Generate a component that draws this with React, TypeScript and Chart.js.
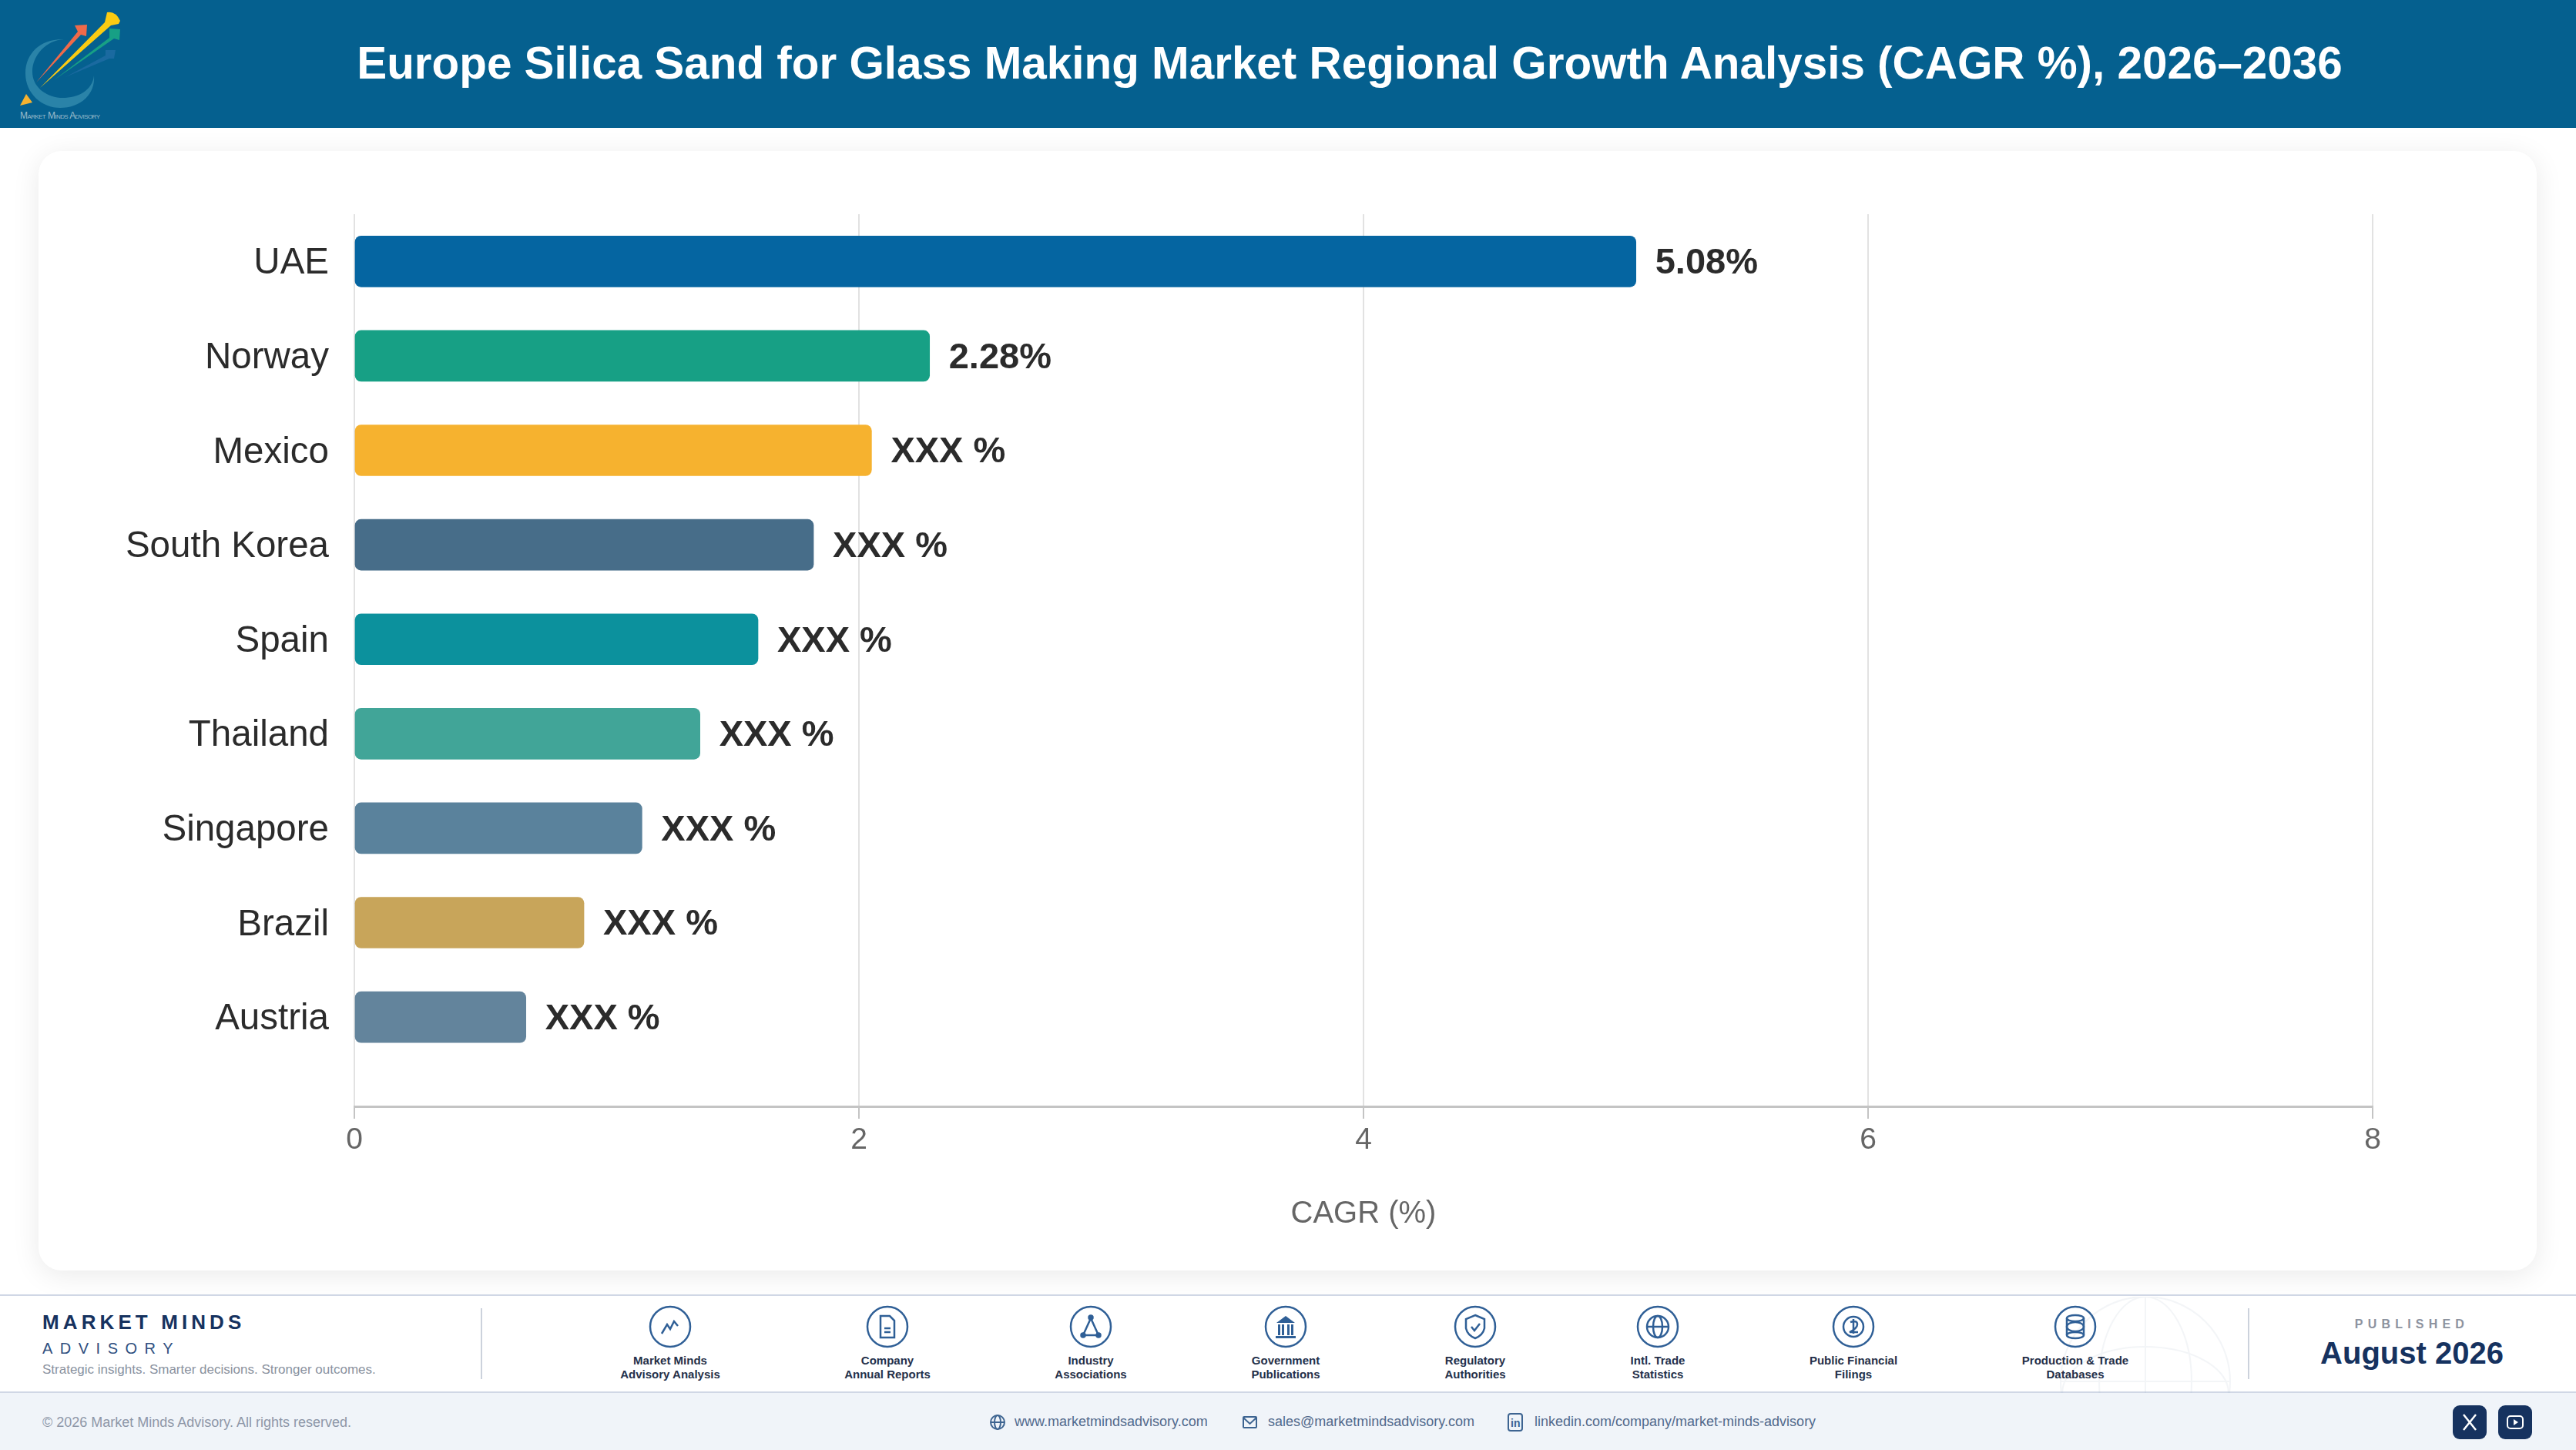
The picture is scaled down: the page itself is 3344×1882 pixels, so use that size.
import { useEffect, useRef } from "react";
import Chart from "chart.js/auto";

const countries = ["UAE", "Norway", "Mexico", "South Korea", "Spain", "Thailand", "Singapore", "Brazil", "Austria"];
const cagr = [5.08, 2.28, 2.05, 1.82, 1.6, 1.37, 1.14, 0.91, 0.68];
const barLabels = ["5.08%", "2.28%", "XXX %", "XXX %", "XXX %", "XXX %", "XXX %", "XXX %", "XXX %"];
const barColors = ["#0565a1", "#17a085", "#f6b22f", "#476d89", "#0c919d", "#41a598", "#5a829c", "#c8a55a", "#63849c"];
const xTicks = [0, 2, 4, 6, 8];

const sans = '"Liberation Sans", Arial, sans-serif';

const sources = [
  { x: 870, lines: ["Market Minds", "Advisory Analysis"], icon: "trend" },
  { x: 1152, lines: ["Company", "Annual Reports"], icon: "doc" },
  { x: 1416, lines: ["Industry", "Associations"], icon: "triangle" },
  { x: 1669, lines: ["Government", "Publications"], icon: "bank" },
  { x: 1915, lines: ["Regulatory", "Authorities"], icon: "shield" },
  { x: 2152, lines: ["Intl. Trade", "Statistics"], icon: "globe" },
  { x: 2406, lines: ["Public Financial", "Filings"], icon: "coin" },
  { x: 2694, lines: ["Production & Trade", "Databases"], icon: "db" },
];

const css = `
  body { margin: 0; background: #fff; }
  .page { position: relative; width: 3344px; height: 1882px; overflow: hidden; font-family: ${sans};
    background: #fff; }
  .page div { position: absolute; white-space: nowrap; }
  .header { left: 0; top: 0; width: 3344px; height: 166px; background: #05608f; }
  .title { left: 0; width: 3504px; top: 46px; text-align: center; color: #fff; font-weight: 700; font-size: 58.4px; line-height: 72px; }
  .card { left: 50px; top: 196px; width: 3243px; height: 1453px; background: #fff; border-radius: 30px;
    box-shadow: 0 6px 36px rgba(0, 0, 0, 0.085); }
  .strip { left: 0; top: 1680px; width: 3344px; height: 128px; background: #fff; box-sizing: border-box;
    border-top: 2px solid #d0d7e5; border-bottom: 2px solid #d0d7e5; }
  .bottom { left: 0; top: 1808px; width: 3344px; height: 74px; background: #f0f4f9; }
  .src { width: 400px; text-align: center; color: #24304a; font-weight: 700; font-size: 15px; line-height: 18px; }
  .contact { color: #50698c; font-size: 18px; line-height: 22px; top: 1834px; }
`;

function Icon({ name }: { name: string }) {
  const c = "#2f5f96";
  if (name === "trend") return <path d="M-11 9 L-4 -3 L0 3 L5 -7 L10 -1" fill="none" stroke={c} strokeWidth="2.5" />;
  if (name === "doc")
    return (
      <g fill="none" stroke={c} strokeWidth="2.5">
        <path d="M-9 -14 H3 L9 -8 V14 H-9 Z" />
        <path d="M-4 2 H4 M-4 7 H4" />
      </g>
    );
  if (name === "triangle")
    return (
      <g fill={c} stroke={c} strokeWidth="2.5">
        <path d="M0 -11 L-10 11 H10 Z" fill="none" />
        <circle cx="0" cy="-12" r="2.5" />
        <circle cx="-10" cy="11" r="2.5" />
        <circle cx="10" cy="11" r="2.5" />
      </g>
    );
  if (name === "bank")
    return (
      <g fill={c}>
        <path d="M0 -14 L-12 -5 H12 Z" />
        <rect x="-10" y="-3" width="3" height="14" />
        <rect x="-5" y="-3" width="3" height="14" />
        <rect x="2" y="-3" width="3" height="14" />
        <rect x="7" y="-3" width="3" height="14" />
        <rect x="-13" y="12" width="26" height="3" />
      </g>
    );
  if (name === "shield")
    return (
      <g fill="none" stroke={c} strokeWidth="2.5">
        <path d="M0 -15 L12 -10 V2 Q10 11 0 15 Q-10 11 -12 2 V-10 Z" />
        <path d="M-5 0 L-1 5 L6 -4" />
      </g>
    );
  if (name === "globe")
    return (
      <g fill="none" stroke={c} strokeWidth="2.5">
        <circle r="14" />
        <ellipse rx="6" ry="14" />
        <path d="M-14 0 H14" />
      </g>
    );
  if (name === "coin")
    return (
      <g fill="none" stroke={c} strokeWidth="2.5">
        <circle r="13" />
        <path d="M-4 -6 Q5 -9 5 -3 Q5 2 -5 7 H6 M0 -10 V9" />
      </g>
    );
  return (
    <g fill="none" stroke={c} strokeWidth="2.5">
      <ellipse cy="-11" rx="11" ry="4" />
      <ellipse cy="0" rx="11" ry="6" />
      <ellipse cy="11" rx="11" ry="4" />
      <path d="M-11 -11 V11 M11 -11 V11" />
    </g>
  );
}

const barLabelPlugin = {
  id: "barLabels",
  afterDatasetsDraw(chart: Chart) {
    const c = chart.ctx;
    const bars = chart.getDatasetMeta(0).data;
    c.save();
    c.font = `700 47px ${sans}`;
    c.fillStyle = "#2b2b2b";
    c.textAlign = "left";
    c.textBaseline = "middle";
    bars.forEach((bar, i) => {
      c.fillText(barLabels[i], bar.x + 25, bar.y + 3);
    });
    c.restore();
  },
};

export default function App() {
  const ref = useRef<HTMLCanvasElement>(null);

  useEffect(() => {
    const canvas = ref.current;
    if (!canvas) return;
    const chart = new Chart(canvas, {
      type: "bar",
      data: {
        datasets: [
          {
            data: cagr.map((v, i) => ({ x: v, y: i })),
            backgroundColor: barColors,
            borderRadius: 8,
            borderSkipped: false,
            barThickness: 66,
          },
        ],
      },
      options: {
        indexAxis: "y",
        animation: false,
        responsive: false,
        devicePixelRatio: 1,
        layout: { padding: { top: 82, right: 213, left: 0, bottom: 0 } },
        plugins: { legend: { display: false }, tooltip: { enabled: false } },
        scales: {
          x: {
            type: "linear",
            min: 0,
            max: 8,
            afterBuildTicks: (scale) => {
              scale.ticks = xTicks.map((value) => ({ value }));
            },
            afterFit: (scale) => {
              scale.height = 213;
            },
            border: { color: "#c4c4c4", width: 3 },
            grid: { color: "#e2e2e2", lineWidth: 2, tickColor: "#c4c4c4", tickLength: 16 },
            ticks: { color: "#666666", font: { size: 39, family: sans }, padding: 5, maxRotation: 0 },
            title: {
              display: true,
              text: "CAGR (%)",
              color: "#666666",
              font: { size: 40, family: sans },
              padding: { top: 28, bottom: 49 },
            },
          },
          y: {
            type: "linear",
            reverse: true,
            offset: false,
            min: -0.5,
            max: 8.945,
            afterBuildTicks: (scale) => {
              scale.ticks = countries.map((_, value) => ({ value }));
            },
            afterFit: (scale) => {
              scale.width = 410;
            },
            border: { display: false },
            grid: { display: false, offset: false },
            ticks: {
              color: "#2b2b2b",
              font: { size: 47.5, family: sans },
              padding: 25,
              labelOffset: 3,
              autoSkip: false,
              callback: (value) => countries[Number(value)] ?? "",
            },
          },
        },
      },
      plugins: [barLabelPlugin],
    });
    return () => {
      chart.destroy();
    };
  }, []);

  return (
    <div className="page">
      <style>{css}</style>
      <div className="header" />
      <div className="title">Europe Silica Sand for Glass Making Market Regional Growth Analysis (CAGR %), 2026–2036</div>
      <svg style={{ position: "absolute", left: 20, top: 10 }} width="150" height="150" viewBox="20 10 150 150">
        <path d="M83 51 C52 50 33 70 33 95 C33 122 55 140 78 140 C105 140 124 122 122 98 C120 118 100 128 78 127 C58 125 42 112 42 93 C42 72 60 52 83 51 Z" fill="#2a83a8" />
        <path d="M34 122 L42 133 L26 137 Z" fill="#f6b22f" />
        <path d="M85 100 L137 72 L137 65 L150 65 L148 76 L142 76 Z" fill="#1a6aa0" />
        <path d="M70 104 L142 49 L142 37 L156 38 L155 52 L148 50 Z" fill="#17a085" />
        <path d="M47 107 L101 41 L97 33 L113 32 L112 47 L105 45 Z" fill="#ef6a4a" />
        <path d="M52 114 L136 29 L139 16 Q150 14 156 27 L154 31 L144 33 Z" fill="#fbcb12" />
        <text x="26" y="154" fontSize="12" textLength={104} fill="#9cbccb" fontFamily={sans} style={{ fontVariant: "small-caps" }}>Market Minds Advisory</text>
      </svg>
      <div className="card" />
      <canvas ref={ref} width={3243} height={1453} style={{ position: "absolute", left: 50, top: 196, width: 3243, height: 1453 }} />
      <div className="strip" />
      <div className="bottom" />
      <svg style={{ position: "absolute", left: 2650, top: 1683, opacity: 0.12 }} width="270" height="125" viewBox="0 0 270 125">
        <g fill="none" stroke="#9fb0c6" strokeWidth="2">
          <circle cx="135" cy="110" r="110" />
          <ellipse cx="135" cy="110" rx="60" ry="110" />
          <ellipse cx="135" cy="125" rx="108" ry="60" />
          <path d="M135 0 V125 M25 110 H245" />
        </g>
      </svg>
      <div style={{ left: 55, top: 1701, color: "#16325f", fontWeight: 700, fontSize: 26, letterSpacing: 5.1, lineHeight: "30px" }}>MARKET MINDS</div>
      <div style={{ left: 55, top: 1738, color: "#2f4f80", fontSize: 20, letterSpacing: 9.5, lineHeight: "24px" }}>ADVISORY</div>
      <div style={{ left: 55, top: 1767, color: "#8a92a0", fontSize: 17, lineHeight: "22px" }}>Strategic insights. Smarter decisions. Stronger outcomes.</div>
      <div style={{ left: 624, top: 1698, width: 2, height: 92, background: "#ccd2dc" }} />
      <div style={{ left: 2918, top: 1698, width: 2, height: 92, background: "#ccd2dc" }} />
      {sources.map((s) => (
        <div key={s.x}>
          <svg style={{ position: "absolute", left: s.x - 28, top: 1694 }} width="56" height="56" viewBox="-28 -28 56 56">
            <circle r="26" fill="none" stroke="#2f5f96" strokeWidth="2.5" />
            <Icon name={s.icon} />
          </svg>
          <div className="src" style={{ left: s.x - 200, top: 1757 }}>
            {s.lines[0]}
            <br />
            {s.lines[1]}
          </div>
        </div>
      ))}
      <div style={{ left: 3031, width: 200, top: 1709, textAlign: "center", color: "#8d939f", fontWeight: 700, fontSize: 16, letterSpacing: 6.2, lineHeight: "20px" }}>PUBLISHED</div>
      <div style={{ left: 2931, width: 400, top: 1731, textAlign: "center", color: "#16325f", fontWeight: 700, fontSize: 40, lineHeight: "50px" }}>August 2026</div>
      <div style={{ left: 55, top: 1835, color: "#8e97a8", fontSize: 18, lineHeight: "22px" }}>© 2026 Market Minds Advisory. All rights reserved.</div>
      <svg style={{ position: "absolute", left: 1284, top: 1834 }} width="22" height="24" viewBox="-11 -12 22 24">
        <g fill="none" stroke="#3d6491" strokeWidth="2">
          <circle r="9" />
          <ellipse rx="4" ry="9" />
          <path d="M-9 0 H9" />
        </g>
      </svg>
      <div className="contact" style={{ left: 1317 }}>www.marketmindsadvisory.com</div>
      <svg style={{ position: "absolute", left: 1612, top: 1835 }} width="22" height="22" viewBox="0 0 22 22">
        <g fill="none" stroke="#3d6491" strokeWidth="2">
          <rect x="2" y="4" width="17" height="14" rx="1" />
          <path d="M2 5 L10.5 13 L19 5" />
        </g>
      </svg>
      <div className="contact" style={{ left: 1646 }}>sales@marketmindsadvisory.com</div>
      <svg style={{ position: "absolute", left: 1956, top: 1833 }} width="22" height="26" viewBox="0 0 22 26">
        <rect x="2" y="2" width="18" height="22" rx="3" fill="none" stroke="#3d6491" strokeWidth="2" />
        <text x="5" y="19" fontSize="14" fontWeight="700" fill="#3d6491" fontFamily={sans}>in</text>
      </svg>
      <div className="contact" style={{ left: 1992 }}>linkedin.com/company/market-minds-advisory</div>
      <svg style={{ position: "absolute", left: 3184, top: 1824 }} width="44" height="44" viewBox="0 0 44 44">
        <rect width="44" height="44" rx="9" fill="#16325f" />
        <path d="M14 12 L30 32 M30 12 L14 32" stroke="#fff" strokeWidth="2.5" />
      </svg>
      <svg style={{ position: "absolute", left: 3243, top: 1824 }} width="44" height="44" viewBox="0 0 44 44">
        <rect width="44" height="44" rx="9" fill="#16325f" />
        <rect x="12" y="14" width="20" height="16" rx="4" fill="none" stroke="#fff" strokeWidth="2" />
        <path d="M20 18 L26 22 L20 26 Z" fill="#fff" />
      </svg>
    </div>
  );
}
